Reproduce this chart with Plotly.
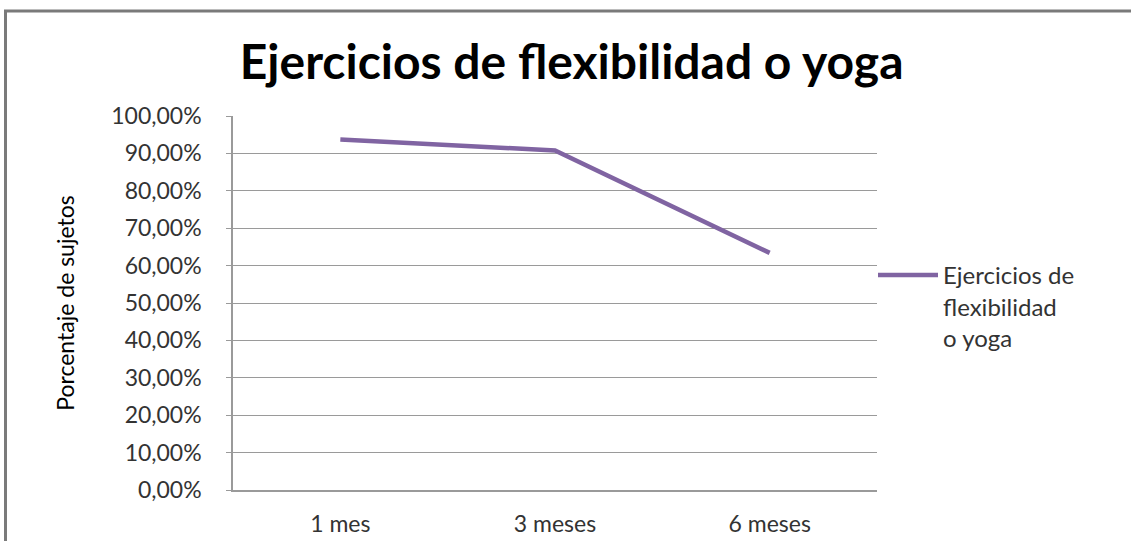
import plotly.graph_objects as go

categories = ["1 mes", "3 meses", "6 meses"]
values = [0.937, 0.908, 0.634]
series_name = "Ejercicios de<br>flexibilidad<br>o yoga"
title_text = "Ejercicios de flexibilidad o yoga"
y_title = "Porcentaje de sujetos"
y_ticks = [i / 10 for i in range(11)]
y_ticklabels = [f"{int(v*100)},00%" for v in y_ticks]

W, H = 1132, 541
L, R, T, B = 233, 255, 116, 51
pw, ph = W - L - R, H - T - B

fig = go.Figure()
fig.add_trace(go.Scatter(
    x=categories, y=values, mode="lines", name=series_name,
    line=dict(color="#8064A2", width=4.5),
))

def px2x(p):
    return (p - L) / pw

def px2y(p):
    return (H - B - p) / ph

fig.update_layout(
    width=W, height=H,
    margin=dict(l=L, r=R, t=T, b=B, autoexpand=False),
    paper_bgcolor="white", plot_bgcolor="white",
    font=dict(family="Lato", color="#333333"),
    title=dict(text=title_text, x=0.505, xanchor="center", y=1 - 62 / H, yanchor="middle",
               font=dict(family="Lato", size=48, color="black", weight="bold")),
    showlegend=True,
    legend=dict(x=px2x(873), xanchor="left", y=px2y(253), yanchor="top",
                font=dict(size=24, color="#333333"), bgcolor="rgba(0,0,0,0)",
                itemwidth=60, tracegroupgap=0, valign="top"),
    xaxis=dict(type="category", showgrid=False, showline=True, linecolor="#9a9a9a",
               linewidth=1.5, ticks="", tickfont=dict(size=23, color="#333333"),
               range=[-0.5, 2.5], ticklabelstandoff=13, automargin=False),
    yaxis=dict(range=[0, 1], tickvals=y_ticks, ticktext=y_ticklabels,
               showgrid=True, gridcolor="#9a9a9a", gridwidth=1.2,
               showline=True, linecolor="#9a9a9a", linewidth=1.5,
               ticks="outside", ticklen=5, tickcolor="#9a9a9a",
               tickfont=dict(size=23, color="#333333"), ticklabelstandoff=20,
               title=dict(text=y_title, font=dict(size=23, color="black"), standoff=30),
               zeroline=False, automargin=False),
    shapes=[
        dict(type="line", xref="paper", yref="paper", x0=px2x(5.5), x1=px2x(5.5),
             y0=px2y(10), y1=px2y(H), line=dict(color="#7a7a7a", width=3)),
        dict(type="line", xref="paper", yref="paper", x0=px2x(4), x1=px2x(W - 1),
             y0=px2y(11), y1=px2y(11), line=dict(color="#7a7a7a", width=3)),
    ],
)

fig.write_html("out.html", config={"displayModeBar": False},
               post_script="document.body.style.margin='0px';document.body.style.overflow='hidden';")
